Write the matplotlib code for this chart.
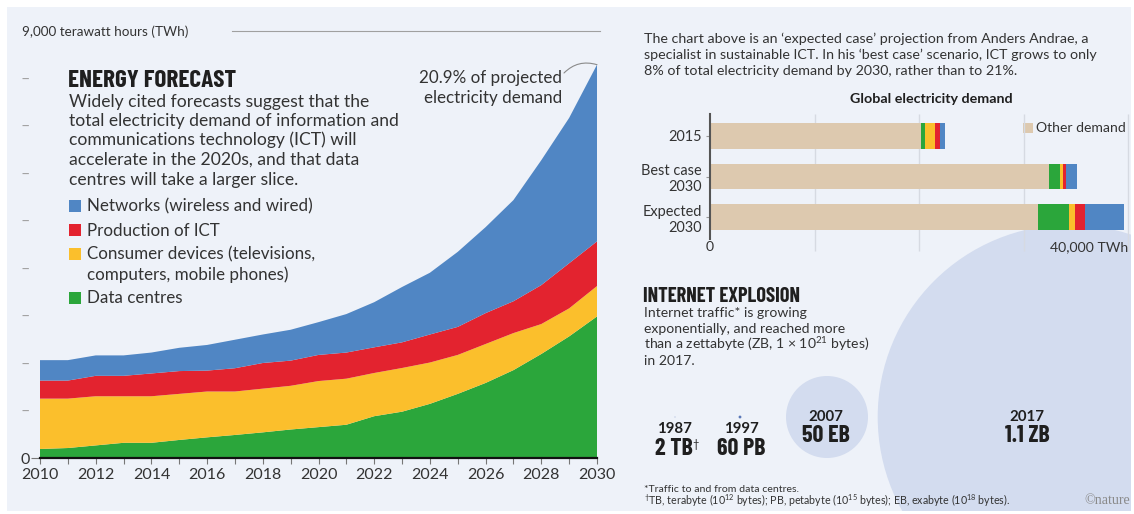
import numpy as np
import matplotlib.pyplot as plt
from matplotlib.patches import Rectangle, Circle

W, H = 1134, 514

# ICT electricity use, expected case (TWh per year)
years = list(range(2010, 2031))
data_centres = [190, 210, 265, 320, 320, 380, 435, 485, 540, 600, 650,
                700, 880, 975, 1140, 1350, 1580, 1850, 2190, 2560, 2980]
consumer_devices = [1060, 1040, 1035, 980, 980, 970, 965, 915, 920, 920, 970,
                    970, 910, 920, 870, 820, 820, 780, 630, 590, 640]
production = [380, 380, 430, 430, 480, 480, 440, 490, 540, 530, 550,
              550, 540, 540, 590, 590, 650, 670, 820, 950, 940]
networks = [430, 430, 430, 430, 440, 490, 540, 600, 600, 650, 690,
            810, 950, 1165, 1300, 1580, 1810, 2130, 2630, 3060, 3720]

# global electricity demand (TWh)
bar_labels = ['2015', 'Best case\n2030', 'Expected\n2030']
other_demand = [20200, 32400, 31340]
best_case_ict = [1100, 320, 260, 1000]   # dc, consumer, production, networks

# internet traffic per year, in exabytes
traffic_years = ['1987', '1997', '2007', '2017']
traffic_text = ['2 TB', '60 PB', '50 EB', '1.1 ZB']
traffic_eb = [2e-6, 0.06, 50, 1100]

GREEN, YELLOW, RED, BLUE = '#2BA63B', '#FBBF2C', '#E3232F', '#5086C4'
TAN = '#DDC9AF'
BG = '#EEF2F9'
BUBBLE = '#D3DCEF'
INK = '#333333'
DARK = '#1f1f1f'
NARROW = ['Barlow Condensed', 'Roboto Condensed', 'Saira Condensed', 'DejaVu Sans']

plt.rcParams['font.family'] = ['Lato', 'DejaVu Sans']
plt.rcParams['mathtext.fontset'] = 'custom'
plt.rcParams['mathtext.rm'] = 'Lato'
plt.rcParams['mathtext.it'] = 'Lato:italic'
plt.rcParams['mathtext.bf'] = 'Lato:bold'


def pt(px):
    return px * 0.72


def box(x0, y0, x1, y1):
    # pixel box, origin top-left -> figure fraction rect
    return [x0 / W, 1 - y1 / H, (x1 - x0) / W, (y1 - y0) / H]


fig = plt.figure(figsize=(W / 100, H / 100), dpi=100, facecolor='white')

# background layer in pixel coordinates
bg = fig.add_axes([0, 0, 1, 1])
bg.set_xlim(0, W)
bg.set_ylim(H, 0)
bg.axis('off')
panel = Rectangle((7, 7), 1124, 504, facecolor=BG, edgecolor='none')
bg.add_patch(panel)

# traffic bubbles, area proportional to volume
r_ref = 41.0
bubble_x = [675, 740, 827, 1070]
for cx, v in zip(bubble_x, traffic_eb):
    r = r_ref * np.sqrt(v / traffic_eb[2])
    col = BUBBLE if r > 5 else '#5b78b8'
    c = bg.add_patch(Circle((cx, 417), max(r, 0.4), facecolor=col, edgecolor='none'))
    c.set_clip_path(panel)

# ---- stacked area chart ----
ax = fig.add_axes(box(40, 30.5, 597, 458))
ax.patch.set_visible(False)
ax.stackplot(years, data_centres, consumer_devices, production, networks,
             colors=[GREEN, YELLOW, RED, BLUE], linewidth=0)
ax.set_xlim(2010, 2030)
ax.set_ylim(0, 9000)
for s in ['top', 'right', 'left']:
    ax.spines[s].set_visible(False)
ax.spines['bottom'].set_linewidth(1.6)
ax.spines['bottom'].set_color('#111111')
ax.set_xticks(range(2010, 2031, 2))
ax.set_xticks(range(2011, 2030, 2), minor=True)
ax.tick_params(axis='x', which='both', length=4, width=0.8, color='#777777',
               labelsize=pt(16), labelcolor=INK, pad=3)
ax.set_yticks(range(0, 9000, 1000))
ax.set_yticklabels(['0'] + ['–'] * 8)
ax.tick_params(axis='y', length=6.5, width=0.8, color='#777777',
               labelsize=pt(16), labelcolor=INK, pad=1)
for t in ax.yaxis.get_major_ticks()[1:]:
    t.tick1line.set_visible(False)
    t.label1.set_color('#a0a0a0')

ax.plot([2016.9, 2030.1], [9000, 9000], color='#a0a0a0', lw=0.8, clip_on=False)
bg.text(22, 36.5, '9,000 terawatt hours (TWh)', fontsize=pt(13.5), color=INK,
        va='baseline')

total_2030 = data_centres[-1] + consumer_devices[-1] + production[-1] + networks[-1]
share = total_2030 / (total_2030 + other_demand[2]) * 100
bg.text(562, 83, f'{share:.1f}% of projected', fontsize=pt(17), color=INK,
        ha='right', va='baseline')
bg.text(562, 102.7, 'electricity demand', fontsize=pt(17), color=INK,
        ha='right', va='baseline')
ax.annotate('', xy=(2030, total_2030), xytext=(564 / W, 1 - 73 / H),
            textcoords='figure fraction',
            arrowprops=dict(arrowstyle='-', color='#8a8a8a', lw=0.8,
                            connectionstyle='arc3,rad=-0.3',
                            shrinkA=0, shrinkB=0))

bg.text(68, 87, 'ENERGY FORECAST', family=NARROW, weight='bold',
        fontsize=pt(25.3), color=DARK, va='baseline')
body = ['Widely cited forecasts suggest that the',
        'total electricity demand of information and',
        'communications technology (ICT) will',
        'accelerate in the 2020s, and that data',
        'centres will take a larger slice.']
for i, line in enumerate(body):
    bg.text(69, 106.5 + i * 19.5, line, fontsize=pt(17.5), color=INK, va='baseline')

legend_items = [(['Networks (wireless and wired)'], BLUE, 211.7),
                (['Production of ICT'], RED, 235.7),
                (['Consumer devices (televisions,', 'computers, mobile phones)'], YELLOW, 259.3),
                (['Data centres'], GREEN, 303.3)]
for lines, col, base in legend_items:
    bg.add_patch(Rectangle((69, base - 11.5), 12, 12, facecolor=col, edgecolor='none'))
    for j, line in enumerate(lines):
        bg.text(87, base + j * 20.7, line, fontsize=pt(17), color=INK, va='baseline')

# ---- right panel: bar chart ----
para = ['The chart above is an ‘expected case’ projection from Anders Andrae, a',
        'specialist in sustainable ICT. In his ‘best case’ scenario, ICT grows to only',
        '8% of total electricity demand by 2030, rather than to 21%.']
for i, line in enumerate(para):
    bg.text(644, 42.7 + i * 16.3, line, fontsize=pt(14.2), color=INK, va='baseline')

bg.text(931, 103.3, 'Global electricity demand', fontsize=pt(14.2), weight='bold',
        color=DARK, ha='center', va='baseline')

i15 = years.index(2015)
bar_dc = [data_centres[i15], best_case_ict[0], data_centres[-1]]
bar_cons = [consumer_devices[i15], best_case_ict[1], consumer_devices[-1]]
bar_prod = [production[i15], best_case_ict[2], production[-1]]
bar_net = [networks[i15], best_case_ict[3], networks[-1]]

bx = fig.add_axes(box(710, 113.7, 1128, 239.3))
bx.patch.set_visible(False)
ypos = np.arange(3)
left = np.zeros(3)
for vals, col in zip([other_demand, bar_dc, bar_cons, bar_prod, bar_net],
                     [TAN, GREEN, YELLOW, RED, BLUE]):
    bx.barh(ypos, vals, left=left, height=0.62, color=col, linewidth=0, zorder=2)
    left += np.array(vals)
bx.set_xlim(0, 40000)
bx.set_ylim(2.55, -0.55)
bx.vlines([10000, 20000, 30000, 40000], -0.55, 2.85, color='#d6dae2', lw=1,
          zorder=0, clip_on=False)
for s in ['top', 'right', 'bottom']:
    bx.spines[s].set_visible(False)
bx.spines['left'].set_color('#555555')
bx.spines['left'].set_linewidth(1.5)
bx.set_yticks(ypos)
bx.set_yticklabels(bar_labels)
bx.tick_params(axis='y', length=3, width=0.8, color='#999999', pad=3,
               labelsize=pt(14.5), labelcolor=INK)
bx.set_xticks([0, 40000])
bx.set_xticklabels(['0', '40,000 TWh'])
bx.get_xticklabels()[1].set_ha('right')
bx.tick_params(axis='x', length=0, pad=1.5, labelsize=pt(14), labelcolor=INK)

bg.add_patch(Rectangle((1023, 122.7), 10, 10, facecolor=TAN, edgecolor='none'))
bg.text(1036, 132.3, 'Other demand', fontsize=pt(14), color=INK, va='baseline')

# ---- right panel: internet traffic ----
bg.text(643, 301.7, 'INTERNET EXPLOSION', family=NARROW, weight='bold',
        fontsize=pt(20.5), color=DARK, va='baseline')
net_body = ['Internet traffic* is growing',
            'exponentially, and reached more',
            'than a zettabyte (ZB, 1 × 10$^{21}$ bytes)',
            'in 2017.']
for i, line in enumerate(net_body):
    bg.text(644, 317.3 + i * 16, line, fontsize=pt(14), color=INK, va='baseline')

year_base = [433.3, 433.3, 420.7, 420.7]
label_x = [674, 741, 826, 1027]
for x, yb, yr, txt in zip(label_x, year_base, traffic_years, traffic_text):
    bg.text(x, yb, yr, fontsize=pt(15), weight='bold', color=DARK,
            ha='center', va='baseline')
    t = bg.text(x, yb + 21.5, txt, family=NARROW, weight='bold', fontsize=pt(24),
                color=DARK, ha='center', va='baseline')
    if txt.endswith('TB'):
        bg.annotate('†', xy=(1, 1), xycoords=t, xytext=(-0.5, -1),
                    textcoords='offset points', fontsize=pt(11), color=DARK,
                    ha='left', va='top')

bg.text(644, 492.3, '*Traffic to and from data centres.', fontsize=pt(10.5),
        color=INK, va='baseline')
bg.text(644, 505, '$^{\\dagger}$TB, terabyte (10$^{12}$ bytes); PB, petabyte '
        '(10$^{15}$ bytes); EB, exabyte (10$^{18}$ bytes).', fontsize=pt(10.6),
        color=INK, va='baseline')
bg.text(1130, 504, '©nature', family=['Liberation Serif', 'DejaVu Serif'],
        fontsize=pt(14), color='#8a8a8a', ha='right', va='baseline')

fig.savefig('out.png', dpi=100, facecolor='white')
